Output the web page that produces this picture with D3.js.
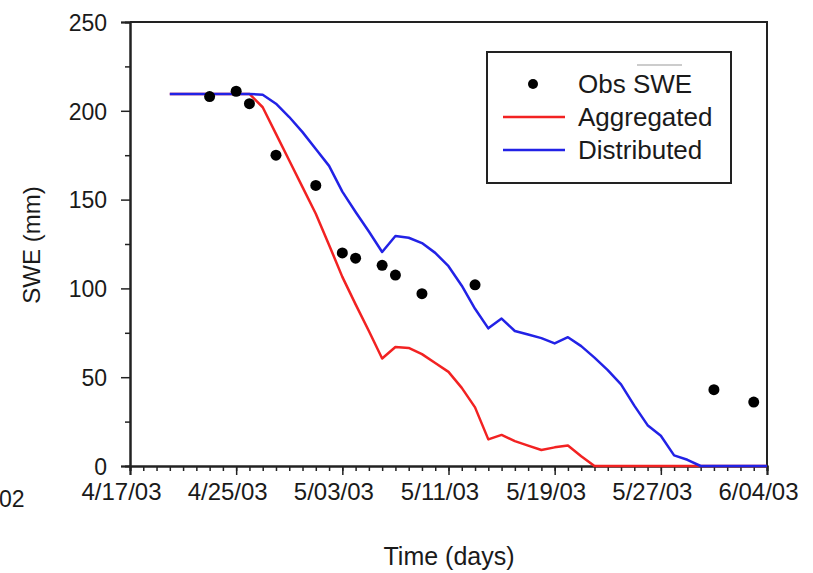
<!DOCTYPE html>
<html>
<head>
<meta charset="utf-8">
<script src="https://cdn.jsdelivr.net/npm/d3@7"></script>
<style>
  body { margin: 0; background: #fff; }
  svg text { font-family: "Liberation Sans", Arial, sans-serif; fill: #1a1a1a; }
</style>
</head>
<body>
<div id="chart"></div>
<script>
// observed SWE (mm)
const obsDates = ['4/23/03', '4/25/03', '4/26/03', '4/28/03', '5/01/03', '5/03/03', '5/04/03',
  '5/06/03', '5/07/03', '5/09/03', '5/13/03', '5/31/03', '6/03/03'];
const obsSWE = [208, 211, 204, 175, 158, 120, 117, 113, 107.5, 97, 102, 43, 36];

// simulated daily series, 4/20/03 .. 6/04/03
const simStart = '4/20/03';
const aggregated = [209.5, 209.5, 209.5, 209.5, 209.5, 209.5, 209.5, 202, 187, 172, 157, 142, 124.5, 106.5,
  91, 76, 60.5, 67, 66.5, 63, 58, 53, 44, 33, 15, 17.5, 14, 11.5, 9, 10.5, 11.5, 5.5,
  0, 0, 0, 0, 0, 0, 0, 0, 0, 0, 0, 0, 0, 0];
const distributed = [209.5, 209.5, 209.5, 209.5, 209.5, 209.5, 209.5, 209, 204, 196.5, 188, 178.5, 169, 154.5,
  143, 132, 120.5, 129.5, 128.5, 125.5, 120, 112.5, 101.5, 88.5, 77.5, 83, 76, 74, 72, 69, 72.5, 67.5,
  61, 54, 46, 34, 23, 17, 6, 3.5, 0, 0, 0, 0, 0, 0];

const xTickLabels = ['4/17/03', '4/25/03', '5/03/03', '5/11/03', '5/19/03', '5/27/03', '6/04/03'];
const yTicks = [0, 50, 100, 150, 200, 250];

const parse = d3.timeParse('%m/%d/%y');
const width = 813, height = 573;
const margin = { top: 22, right: 46, bottom: 107, left: 130 };
const w = width - margin.left - margin.right;
const h = height - margin.top - margin.bottom;

const svg = d3.select('#chart').append('svg')
  .attr('width', width)
  .attr('height', height);

const g = svg.append('g')
  .attr('transform', `translate(${margin.left},${margin.top})`);

const x = d3.scaleTime()
  .domain([parse(xTickLabels[0]), parse(xTickLabels[xTickLabels.length - 1])])
  .range([0, w]);
const y = d3.scaleLinear().domain([0, 250]).range([h, 0]);

const simDates = d3.range(aggregated.length).map(i => d3.timeDay.offset(parse(simStart), i));

// box (top + right)
g.append('path')
  .attr('d', `M0,0H${w}V${h}`)
  .attr('fill', 'none')
  .attr('stroke', '#222')
  .attr('stroke-width', 2);

// minor ticks
const xMinor = g.append('g')
  .attr('transform', `translate(0,${h})`)
  .call(d3.axisBottom(x).ticks(d3.timeDay.every(1)).tickSize(5).tickFormat(''));
const yMinor = g.append('g')
  .call(d3.axisLeft(y).tickValues(d3.range(25, 250, 50)).tickSize(5).tickFormat(''));

// major ticks
const xAxis = g.append('g')
  .attr('transform', `translate(0,${h})`)
  .call(d3.axisBottom(x)
    .tickValues(xTickLabels.map(parse))
    .tickSize(9).tickPadding(14)
    .tickFormat((d, i) => xTickLabels[i]));

const yAxis = g.append('g')
  .call(d3.axisLeft(y).tickValues(yTicks).tickSize(9).tickPadding(14));

[xMinor, yMinor, xAxis, yAxis].forEach(a => {
  a.select('.domain').attr('stroke', '#222').attr('stroke-width', 2);
  a.selectAll('.tick line').attr('stroke', '#222').attr('stroke-width', 1.5);
  a.selectAll('text').style('font-size', '23px').attr('fill', '#1a1a1a');
});
xAxis.selectAll('text').style('font-size', '24px').attr('dx', -9).attr('dy', '0.45em');
yAxis.selectAll('text').attr('dy', '0.36em');

// label fragment at far left
svg.append('text')
  .attr('x', -1).attr('y', 507)
  .style('font-size', '23px')
  .text('02');

// lines
const line = d3.line()
  .x((d, i) => x(simDates[i]))
  .y(d => y(d));

g.append('path')
  .datum(aggregated)
  .attr('fill', 'none')
  .attr('stroke', '#f22222')
  .attr('stroke-width', 2.5)
  .attr('stroke-linejoin', 'round')
  .attr('d', line);

g.append('path')
  .datum(distributed)
  .attr('fill', 'none')
  .attr('stroke', '#2222e6')
  .attr('stroke-width', 2.5)
  .attr('stroke-linejoin', 'round')
  .attr('d', line);

g.selectAll('.obs')
  .data(obsSWE)
  .enter()
  .append('circle')
  .attr('class', 'obs')
  .attr('cx', (d, i) => x(parse(obsDates[i])))
  .attr('cy', d => y(d))
  .attr('r', 5.5)
  .attr('fill', '#000');

// axis titles
svg.append('text')
  .attr('x', 449).attr('y', 565)
  .attr('text-anchor', 'middle')
  .style('font-size', '25px')
  .text('Time (days)');

svg.append('text')
  .attr('transform', 'translate(40,245) rotate(-90)')
  .attr('text-anchor', 'middle')
  .style('font-size', '24px')
  .text('SWE (mm)');

// legend
const legend = svg.append('g');
legend.append('rect')
  .attr('x', 487).attr('y', 52)
  .attr('width', 244).attr('height', 131)
  .attr('fill', '#fff')
  .attr('stroke', '#222')
  .attr('stroke-width', 2);

legend.append('circle')
  .attr('cx', 533).attr('cy', 84)
  .attr('r', 5)
  .attr('fill', '#000');
legend.append('line')
  .attr('x1', 637).attr('x2', 682)
  .attr('y1', 65).attr('y2', 65)
  .attr('stroke', '#999')
  .attr('stroke-width', 1.2);

const entries = [
  { label: 'Obs SWE', y: 84 },
  { label: 'Aggregated', y: 117, color: '#f22222' },
  { label: 'Distributed', y: 150, color: '#2222e6' }
];
entries.forEach(e => {
  if (e.color) {
    legend.append('line')
      .attr('x1', 503).attr('x2', 565)
      .attr('y1', e.y).attr('y2', e.y)
      .attr('stroke', e.color)
      .attr('stroke-width', 2.5);
  }
  legend.append('text')
    .attr('x', 578).attr('y', e.y)
    .attr('dy', '0.36em')
    .style('font-size', '26px')
    .text(e.label);
});
</script>
</body>
</html>
